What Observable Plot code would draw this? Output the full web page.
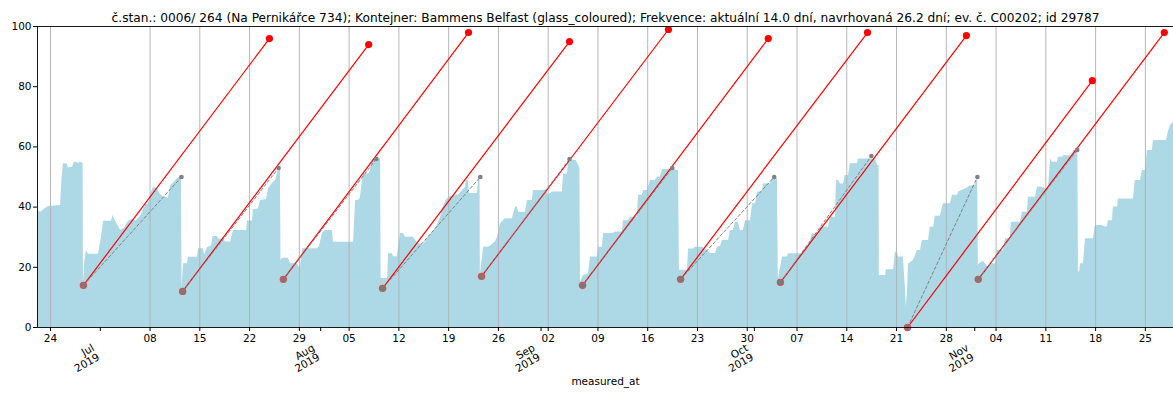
<!DOCTYPE html>
<html><head><meta charset="utf-8">
<script src="https://cdn.jsdelivr.net/npm/d3@7"></script>
<script src="https://cdn.jsdelivr.net/npm/@observablehq/plot@0.6"></script>
<style>body{margin:0;background:#fff}</style>
</head><body><div id="chart"></div>
<script>
const title = "č.stan.: 0006/ 264 (Na Pernikářce 734); Kontejner: Bammens Belfast (glass_coloured); Frekvence: aktuální 14.0 dní, navrhovaná 26.2 dní; ev. č. C00202; id 29787";
const xLabel = "measured_at";

const measuredAt = [
"2019-06-22 04","2019-06-22 14","2019-06-23 07","2019-06-23 17","2019-06-25 10","2019-06-25 15","2019-06-25 20","2019-06-26 09","2019-06-26 13","2019-06-27 02","2019-06-27 09","2019-06-27 23","2019-06-28 05","2019-06-28 14","2019-06-28 15","2019-06-28 20","2019-06-29 01","2019-06-29 08","2019-06-30 18","2019-07-01 04","2019-07-01 11","2019-07-02 14","2019-07-02 19","2019-07-03 03","2019-07-03 20","2019-07-04 10","2019-07-04 23","2019-07-05 13","2019-07-06 02","2019-07-06 16","2019-07-07 09","2019-07-07 19","2019-07-08 01","2019-07-08 12","2019-07-09 01","2019-07-09 11","2019-07-09 21","2019-07-10 14","2019-07-10 21","2019-07-11 07","2019-07-11 21","2019-07-12 10","2019-07-12 12",
"2019-07-12 17","2019-07-13 06","2019-07-13 10","2019-07-14 16","2019-07-14 20","2019-07-15 12","2019-07-15 16","2019-07-16 02","2019-07-16 15","2019-07-16 21","2019-07-17 12","2019-07-17 15","2019-07-18 08","2019-07-18 15","2019-07-19 08","2019-07-19 14","2019-07-19 18","2019-07-21 14","2019-07-21 17","2019-07-22 10","2019-07-22 13","2019-07-23 06","2019-07-23 13","2019-07-24 09","2019-07-24 16","2019-07-25 02","2019-07-25 16","2019-07-25 22","2019-07-26 03","2019-07-26 08",
"2019-07-26 10","2019-07-26 15","2019-07-27 11","2019-07-27 18","2019-07-28 18","2019-07-28 23","2019-07-29 04","2019-07-29 11","2019-07-31 13","2019-07-31 20","2019-08-01 06","2019-08-01 16","2019-08-02 16","2019-08-02 19","2019-08-05 15","2019-08-05 22","2019-08-06 08","2019-08-06 14","2019-08-07 00","2019-08-07 18","2019-08-08 00","2019-08-08 07","2019-08-08 10","2019-08-09 10","2019-08-09 12",
"2019-08-10 10","2019-08-10 13","2019-08-11 02","2019-08-11 06","2019-08-11 19","2019-08-11 23","2019-08-12 06","2019-08-12 16","2019-08-12 22","2019-08-14 01","2019-08-14 15","2019-08-15 11","2019-08-16 04","2019-08-16 21","2019-08-17 10","2019-08-17 20","2019-08-18 06","2019-08-18 17","2019-08-19 06","2019-08-20 09","2019-08-20 23","2019-08-21 09","2019-08-21 12","2019-08-21 19","2019-08-21 22","2019-08-23 01","2019-08-23 06","2019-08-23 10","2019-08-23 11",
"2019-08-23 22","2019-08-24 14","2019-08-24 21","2019-08-25 14","2019-08-25 21","2019-08-26 07","2019-08-26 23","2019-08-27 23","2019-08-28 10","2019-08-28 16","2019-08-28 20","2019-08-29 19","2019-08-30 02","2019-08-30 19","2019-08-30 22","2019-09-01 05","2019-09-01 18","2019-09-02 01","2019-09-02 14","2019-09-04 00","2019-09-04 04","2019-09-04 17","2019-09-04 21","2019-09-05 23","2019-09-06 06","2019-09-06 11","2019-09-06 13",
"2019-09-06 23","2019-09-07 16","2019-09-07 23","2019-09-08 22","2019-09-09 02","2019-09-09 15","2019-09-09 19","2019-09-11 04","2019-09-11 11","2019-09-12 11","2019-09-12 14","2019-09-13 07","2019-09-13 14","2019-09-14 13","2019-09-14 17","2019-09-15 06","2019-09-15 10","2019-09-15 23","2019-09-16 09","2019-09-17 02","2019-09-17 09","2019-09-17 19","2019-09-18 02","2019-09-19 12","2019-09-20 08","2019-09-20 11",
"2019-09-21 14","2019-09-21 18","2019-09-22 11","2019-09-22 17","2019-09-23 17","2019-09-24 03","2019-09-24 20","2019-09-25 13","2019-09-25 19","2019-09-26 06","2019-09-26 12","2019-09-27 09","2019-09-27 15","2019-09-28 01","2019-09-28 08","2019-09-28 18","2019-09-29 01","2019-09-29 11","2019-09-29 18","2019-09-30 11","2019-09-30 18","2019-10-01 04","2019-10-01 11","2019-10-02 03","2019-10-02 07","2019-10-03 06","2019-10-03 13","2019-10-04 06","2019-10-04 09",
"2019-10-04 23","2019-10-05 16","2019-10-05 19","2019-10-07 22","2019-10-08 05","2019-10-08 15","2019-10-09 04","2019-10-10 00","2019-10-10 07","2019-10-11 10","2019-10-11 17","2019-10-12 10","2019-10-12 13","2019-10-12 20","2019-10-13 03","2019-10-13 13","2019-10-13 19","2019-10-14 06","2019-10-14 12","2019-10-15 12","2019-10-15 15","2019-10-18 01","2019-10-18 08","2019-10-18 13","2019-10-18 14",
"2019-10-19 11","2019-10-19 14","2019-10-20 14","2019-10-20 20","2019-10-21 03","2019-10-21 06","2019-10-21 23","2019-10-22 06","2019-10-22 09","2019-10-22 13","2019-10-22 16","2019-10-23 09","2019-10-23 23","2019-10-24 09","2019-10-24 15","2019-10-25 12","2019-10-25 18","2019-10-26 05","2019-10-26 11","2019-10-27 04","2019-10-27 14","2019-10-28 14","2019-10-28 21","2019-10-29 14","2019-10-29 17","2019-10-30 17","2019-10-31 10","2019-11-01 02","2019-11-01 10","2019-11-01 12",
"2019-11-01 14","2019-11-02 05","2019-11-02 22","2019-11-03 12","2019-11-03 22","2019-11-04 05","2019-11-05 01","2019-11-05 08","2019-11-06 00","2019-11-06 04","2019-11-07 10","2019-11-07 17","2019-11-08 10","2019-11-08 13","2019-11-09 13","2019-11-09 20","2019-11-10 16","2019-11-10 23","2019-11-11 09","2019-11-11 16","2019-11-11 22","2019-11-12 15","2019-11-12 18","2019-11-13 08","2019-11-13 12","2019-11-14 18","2019-11-14 21","2019-11-15 12","2019-11-15 14",
"2019-11-15 18","2019-11-15 21","2019-11-16 07","2019-11-16 14","2019-11-17 17","2019-11-17 23","2019-11-18 23","2019-11-19 06","2019-11-19 16","2019-11-19 19","2019-11-20 09","2019-11-20 12","2019-11-21 02","2019-11-21 05","2019-11-23 08","2019-11-23 14","2019-11-24 07","2019-11-24 14","2019-11-25 00","2019-11-25 07","2019-11-26 00","2019-11-26 03","2019-11-27 23","2019-11-28 06","2019-11-28 12","2019-11-28 23"
];
const fillLevel = [
39,38.3,39.5,40.2,40.5,50,54.4,54.2,53,53.2,55,54.5,55,54.5,14.5,22,25.5,24.3,24.3,30,35.3,35.3,37.2,35.5,32.3,33,35.3,36,35.5,37,40.8,41,44,46.6,46,44.3,43.3,43,47,48,49.5,50.5,13,
21.2,21.2,23.3,23.3,26.2,26.2,24,26.6,27,30.2,30.2,29.4,29.4,28.4,28.4,31,32.2,32.2,35.4,35.4,39.2,39.4,42.2,42.5,46,47.5,49,51,53,52.5,
22.3,23,23,21.2,21.2,19.9,20.5,26.2,26.2,27,31.2,32.2,32.2,28.3,28.3,42.2,42.2,43,51,51,52,55.5,56.1,56.1,16.3,
16.3,24.5,24.5,23.5,23.5,27.2,31.2,31.2,30,30,28,27.5,30,32,34,36.5,40,42.5,43.5,44,45.5,46.6,48.8,48.8,44.5,44.5,50,50,17.3,
26.7,26.7,27,28.5,30,34.5,36.1,36.1,40,40,38.3,38.3,42.2,42.2,45.5,45.5,45.8,43.9,45,45,51,51,55.5,55.5,54,53,15,
17.3,17.8,23.4,23.4,26.7,26.7,31.2,31.2,31.7,31.7,35.5,35.5,36.6,36.6,43.9,43.9,45.5,45.5,48.8,48.8,50,50,52.5,52.5,52.2,19,
19,26.1,26.1,26.7,26.7,26,24.6,24.6,26.7,27,28.9,28.9,32.2,32.2,35,35,32.2,32.2,35.5,35.5,41.1,41.1,45,45,47.7,47.7,49.4,49.4,16,
23.4,23.4,24.5,24.5,26.7,26.7,31.1,31.1,33.3,33.3,36.6,36.6,48.8,48.8,47.7,47.7,50.5,50.5,54.4,54.4,56,56,53.8,53.8,17.3,
17.3,19.2,19.2,25,25,23.4,23.4,13,7,12,21,22.3,25.6,25.6,28.9,28.9,33.3,33.3,37,37,41.1,41.1,43.9,43.9,45,46,47,47.2,49.5,20.6,
21,22,20,21.2,21.2,25.6,25.6,29.5,29.5,35,35,38.3,38.3,43.3,43.3,46.6,46.6,46.1,46.1,56,54.9,54.9,56.6,56.6,57.1,57.1,58.8,58.8,18.4,
18.4,21.2,21.2,29.5,29.5,33.9,33.9,33.5,33.5,35.5,35.5,40,40,42.7,42.7,48.8,48.8,52.2,52.2,58.8,58.8,62.1,62.1,65,67,68.2
];

// emptying cycles: start of cycle, predicted fill (red) and actual fill at next emptying (gray)
const cycleStart      = ["2019-06-28 15","2019-07-12 14","2019-07-26 18","2019-08-09 17","2019-08-23 15","2019-09-06 20","2019-09-20 15","2019-10-04 16","2019-10-22 13","2019-11-01 12"];
const cycleStartLevel = [14,12,16,13,17,14,16,15,0,16];
const predictedEnd    = ["2019-07-24 19","2019-08-07 18","2019-08-21 19","2019-09-05 00","2019-09-18 22","2019-10-02 23","2019-10-16 22","2019-10-30 20","2019-11-17 13","2019-11-27 16"];
const predictedLevel  = [96,94,98,95,99,96,98,97,82,98];
const actualEnd       = ["2019-07-12 10","2019-07-26 02","2019-08-08 20","2019-08-23 11","2019-09-05 00","2019-09-19 11","2019-10-03 19","2019-10-17 11","2019-11-01 09","2019-11-15 10"];
const actualLevel     = [50,53,56,50,56,53,50,57,50,59];

const weekTicks = ["2019-06-24","2019-07-08","2019-07-15","2019-07-22","2019-07-29","2019-08-05","2019-08-12","2019-08-19","2019-08-26","2019-09-02","2019-09-09","2019-09-16","2019-09-23","2019-09-30","2019-10-07","2019-10-14","2019-10-21","2019-10-28","2019-11-04","2019-11-11","2019-11-18","2019-11-25"];
const monthTicks = ["2019-07-01","2019-08-01","2019-09-01","2019-10-01","2019-11-01"];
const monthLabels = ["Jul\n2019","Aug\n2019","Sep\n2019","Oct\n2019","Nov\n2019"];
const yTicks = [0,20,40,60,80,100];
const xDomain = ["2019-06-22 04","2019-11-28 23"];

const parseT = d3.utcParse("%Y-%m-%d %H");
const parseD = d3.utcParse("%Y-%m-%d");
const level = measuredAt.map((t,i)=>({t: parseT(t), v: fillLevel[i]}));
const cycles = cycleStart.map((s,i)=>({
  start: parseT(s), sv: cycleStartLevel[i],
  pe: parseT(predictedEnd[i]), pv: predictedLevel[i],
  ae: parseT(actualEnd[i]), av: actualLevel[i]
}));
const weekDates = weekTicks.map(parseD);
const months = monthTicks.map((m,i)=>({d: parseD(m), label: monthLabels[i]}));
const dom = xDomain.map(parseT);

const chart = Plot.plot({
  width: 1173, height: 393,
  marginLeft: 37, marginRight: 0, marginTop: 26, marginBottom: 66,
  style: {fontFamily: "DejaVu Sans", fontSize: "10.5px", background: "#fff", color: "#000"},
  x: {type: "utc", domain: dom},
  y: {domain: [0, 100]},
  marks: [
    Plot.areaY(level, {x: "t", y: "v", fill: "#add8e6"}),
    Plot.ruleX(weekDates, {stroke: "#b0b0b0", strokeWidth: 0.9}),
    Plot.link(cycles, {x1: "start", y1: "sv", x2: "pe", y2: "pv", stroke: "red", strokeWidth: 1.2}),
    Plot.link(cycles, {x1: "start", y1: "sv", x2: "ae", y2: "av", stroke: "#808080", strokeWidth: 1, strokeDasharray: "3.7,1.6"}),
    Plot.dot(cycles, {x: "pe", y: "pv", r: 3.6, fill: "red"}),
    Plot.dot(cycles, {x: "ae", y: "av", r: 2.3, fill: "#808080"}),
    Plot.dot(cycles, {x: "start", y: "sv", r: 3.7, fill: "#e8474a"}),
    Plot.dot(cycles, {x: "start", y: "sv", r: 2.9, fill: "#7a7a7a", fillOpacity: 0.9}),
    Plot.ruleX([dom[0]], {stroke: "#000", strokeWidth: 0.9}),
    Plot.ruleY([0, 100], {stroke: "#000", strokeWidth: 0.9}),
    Plot.axisY({ticks: yTicks, tickSize: 4, tickPadding: 2, label: null, fontSize: 10.5}),
    Plot.axisX({ticks: weekDates, tickFormat: d3.utcFormat("%d"), tickSize: 4, tickPadding: 3, label: null, fontSize: 10.5}),
    Plot.axisX({ticks: months.map(m => m.d), tickFormat: () => "", tickSize: 4, label: null}),
    Plot.text(months, {x: "d", text: "label", frameAnchor: "bottom", rotate: -30, textAnchor: "end", lineAnchor: "top", dy: 16, dx: -9, fontSize: 10.5}),
    Plot.text([title], {frameAnchor: "top", dy: -13, fontSize: 12.2}),
    Plot.text([xLabel], {frameAnchor: "bottom", dy: 57, fontSize: 10.5})
  ]
});
document.getElementById("chart").appendChild(chart);
</script>
</body></html>
